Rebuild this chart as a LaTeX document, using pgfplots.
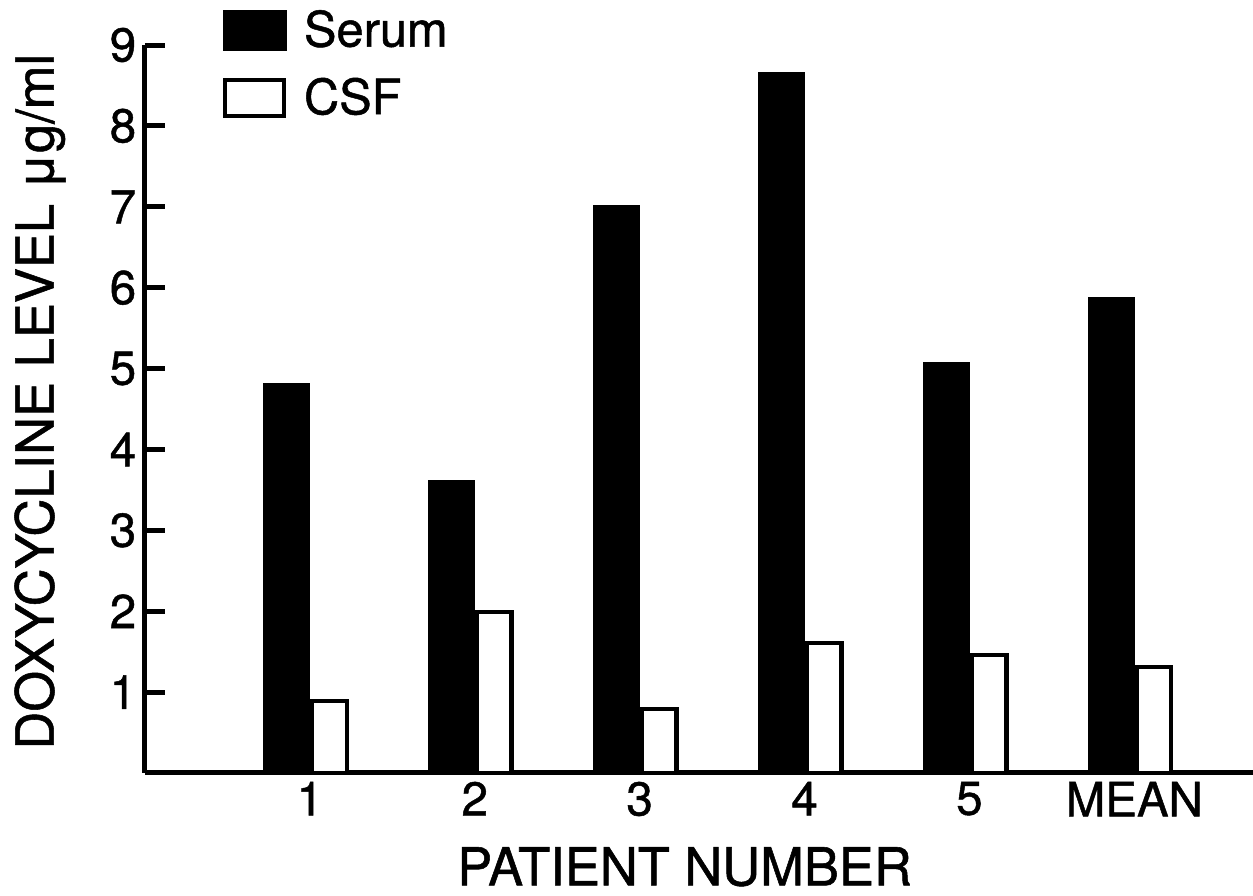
\documentclass[border=0pt]{standalone}
\usepackage{fontspec}
\setmainfont{TeX Gyre Heros}[FakeBold=1]
\usepackage{pgfplots}
\pgfplotsset{compat=1.18}
\begin{document}
\begin{tikzpicture}
\useasboundingbox (-58pt,-49.2pt) rectangle (443.2pt,309.2pt);
\begin{axis}[
  scale only axis,
  width=443.2pt, height=291.2pt,
  xmin=0, xmax=6.72, ymin=0, ymax=9,
  axis x line*=bottom, axis y line*=left,
  axis line style={line width=2pt, -},
  ytick={1,2,3,4,5,6,7,8,9},
  xtick={1,2,3,4,5,6},
  xticklabels={1,2,3,4,5,MEAN},
  major x tick style={draw=none},
  major y tick style={line width=2pt, black},
  tick align=inside,
  major tick length=8pt,
  /pgf/number format/assume math mode=true,
  ticklabel style={font=\fontsize{19}{22}\selectfont},
  xlabel={PATIENT NUMBER},
  ylabel={DOXYCYCLINE LEVEL μg/ml},
  label style={font=\fontsize{21}{24}\selectfont},
  xlabel style={at={(axis description cs:0.487,-0.1545)}, anchor=base, inner sep=0pt},
  ylabel style={at={(axis description cs:-0.0947,0.51)}, anchor=center},
  legend style={at={(axis description cs:0.0695,1.052)}, anchor=north west,
    draw=none, fill=none, inner sep=0pt, row sep=9pt,
    font=\fontsize{19.5}{22}\selectfont,
    nodes={inner sep=1pt},
    /tikz/every odd column/.append style={column sep=6pt}},
  legend cell align=left,
]
\addplot[ybar, bar width=0.279, bar shift=-0.1395, fill=black, draw=black, line width=0.4pt,
  legend image code/.code={\fill[black] (0pt,-8pt) rectangle (25.2pt,8pt);}]
  coordinates {(1,4.82) (2,3.62) (3,7.01) (4,8.66) (5,5.07) (6,5.88)};
\addlegendentry{Serum}
\addplot[ybar, bar width=0.212, bar shift=0.118, fill=white, draw=black, line width=1.8pt,
  legend image code/.code={\draw[black, fill=white, line width=1.6pt] (0.8pt,-7.2pt) rectangle (24.4pt,7.2pt);}]
  coordinates {(1,0.89) (2,1.99) (3,0.79) (4,1.61) (5,1.46) (6,1.31)};
\addlegendentry{CSF}
\end{axis}
\end{tikzpicture}
\end{document}
